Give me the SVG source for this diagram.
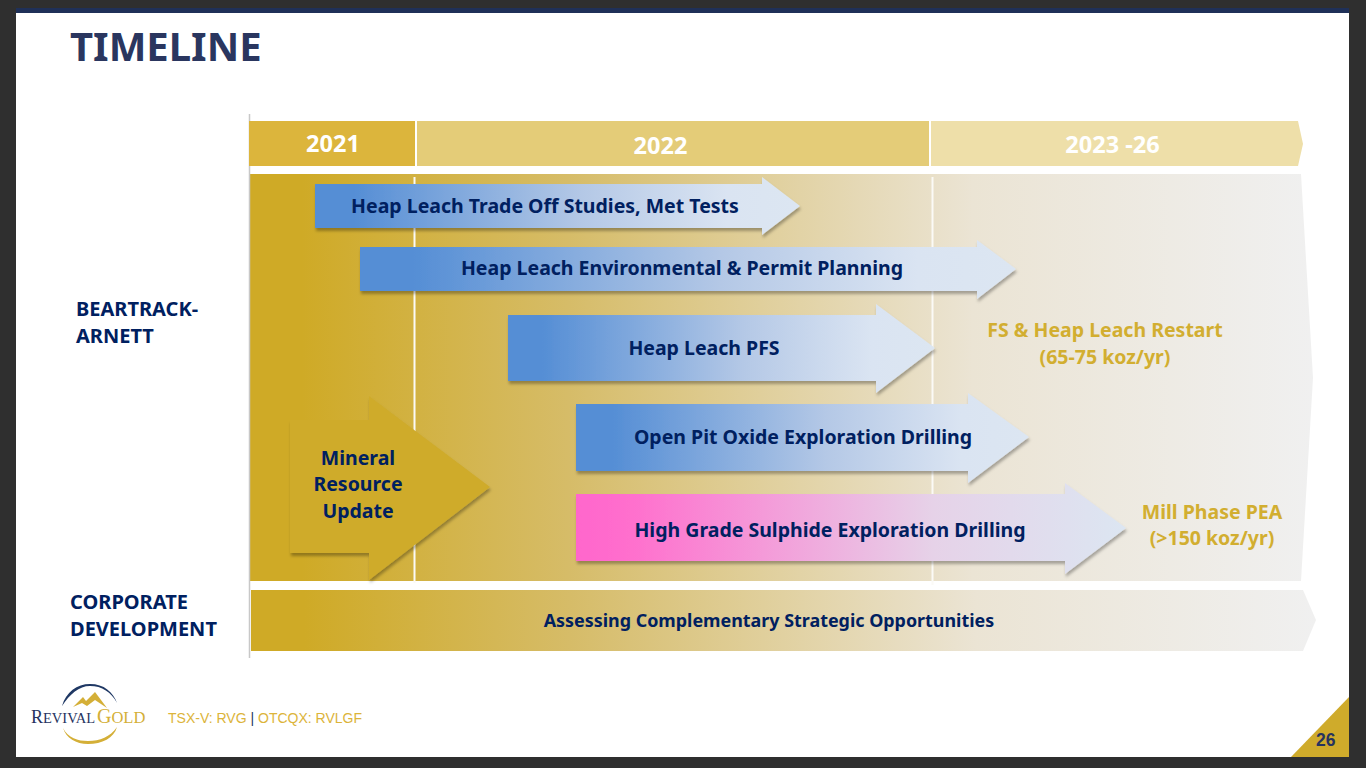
<svg xmlns="http://www.w3.org/2000/svg" width="1366" height="768" viewBox="0 0 1366 768">
<style>
text{font-family:"Noto Sans","Open Sans","Liberation Sans",sans-serif;font-weight:700}
.n{fill:#002060;font-size:20px}
.y{fill:#fff;font-size:23.500px;text-anchor:middle}
.g{fill:#d2ae30;font-size:19.500px;text-anchor:middle}
.s{fill:#002060;font-size:19.500px;text-anchor:middle}
.t{fill:#002060;font-size:17.900px;text-anchor:middle}
.f{font-family:"Liberation Serif",serif;font-weight:400}
</style>
<defs>
<linearGradient id="bg" x1="0" x2="1" y1="0" y2="0"><stop offset="0" stop-color="#cfaa26"/><stop offset=".05" stop-color="#cfaa26"/><stop offset=".3" stop-color="#d6bc68"/><stop offset=".68" stop-color="#ebe4d4"/><stop offset="1" stop-color="#f0f0f0"/></linearGradient>
<linearGradient id="blue" x1="0" x2="1" y1="0" y2="0"><stop offset="0" stop-color="#558ed5"/><stop offset=".08" stop-color="#558ed5"/><stop offset=".55" stop-color="#b4c8e6"/><stop offset=".85" stop-color="#dae4f2"/><stop offset="1" stop-color="#dce6f2"/></linearGradient>
<linearGradient id="pink" x1="0" x2="1" y1="0" y2="0"><stop offset="0" stop-color="#ff66cc"/><stop offset=".1" stop-color="#ff6fcd"/><stop offset=".65" stop-color="#e6d2e8"/><stop offset="1" stop-color="#dce6f2"/></linearGradient>
<filter id="sh" x="-5%" y="-10%" width="110%" height="125%"><feDropShadow dx="1" dy="3" stdDeviation="1.500" flood-color="#000" flood-opacity=".3"/></filter>
</defs>
<rect width="1366" height="768" fill="#2f2f2f"/>
<rect x="16" y="13" width="1333" height="744" fill="#fff"/>
<rect x="16" y="8" width="1333" height="5" fill="#1f3058"/>
<text id="title" x="70" y="61" font-size="40" fill="#2a365f">TIMELINE</text>
<g id="backgrounds">
<polygon points="249,174 1301,174 1313,378 1301,581 249,581" fill="url(#bg)"/>
<polygon points="251,590 1303,590 1316,620 1303,651 251,651" fill="url(#bg)"/>
</g>
<g id="connectors" fill="none">
<path d="M249.500 114V658" stroke="#c8c8c8" stroke-width="1.500"/>
<path d="M414.500 177V583M932.500 177V585" stroke="#fbfaf6" stroke-width="2"/>
</g>
<g id="year-2021"><rect x="249" y="121" width="166" height="45" fill="#dcb53c"/><text class="y" x="333" y="152">2021</text></g>
<g id="year-2022"><rect x="417" y="121" width="512" height="45" fill="#e4cc78"/><text class="y" x="660.500" y="154">2022</text></g>
<g id="year-2023"><polygon points="931,121 1298,121 1303,144 1298,166 931,166" fill="#eedfa9"/><text class="y" x="1112.500" y="153">2023 -26</text></g>
<g id="label-beartrack"><text class="n" x="76" y="316">BEARTRACK-</text><text class="n" x="76" y="343">ARNETT</text></g>
<g id="label-corporate"><text class="n" x="70" y="609">CORPORATE</text><text class="n" x="70" y="636">DEVELOPMENT</text></g>
<g id="arrow-tradeoff"><polygon filter="url(#sh)" points="315,184 762,184 762,177 800,206 762,235 762,228 315,228" fill="url(#blue)"/><text class="s" x="545" y="213">Heap Leach Trade Off Studies, Met Tests</text></g>
<g id="arrow-permit"><polygon filter="url(#sh)" points="360,247 977,247 977,240 1016,269 977,299 977,291 360,291" fill="url(#blue)"/><text class="s" x="682" y="275">Heap Leach Environmental &amp; Permit Planning</text></g>
<g id="arrow-pfs"><polygon filter="url(#sh)" points="508,315 876,315 876,304 935,348 876,393 876,381 508,381" fill="url(#blue)"/><text class="s" x="704" y="355">Heap Leach PFS</text></g>
<g id="arrow-oxide"><polygon filter="url(#sh)" points="576,404 968,404 968,393 1029,437 968,483 968,471 576,471" fill="url(#blue)"/><text class="s" x="803" y="444">Open Pit Oxide Exploration Drilling</text></g>
<g id="arrow-sulphide"><polygon filter="url(#sh)" points="576,494 1065,494 1065,483 1126,528 1065,574 1065,561 576,561" fill="url(#pink)"/><text class="s" x="830" y="537">High Grade Sulphide Exploration Drilling</text></g>
<g id="arrow-mineral"><polygon filter="url(#sh)" points="290,420 369,420 369,396 490,487 369,580 369,553 290,553" fill="#cfab2b"/><text class="s" x="358" y="465">Mineral</text><text class="s" x="358" y="491">Resource</text><text class="s" x="358" y="518">Update</text></g>
<g id="label-restart"><text class="g" x="1105" y="337">FS &amp; Heap Leach Restart</text><text class="g" x="1105" y="364">(65-75 koz/yr)</text></g>
<g id="label-mill"><text class="g" x="1212" y="519">Mill Phase PEA</text><text class="g" x="1212" y="545">(&gt;150 koz/yr)</text></g>
<g id="label-strategic"><text class="t" x="769" y="627">Assessing Complementary Strategic Opportunities</text></g>
<g id="logo">
<path d="M62 706C66 692 77 684 90 684C104 684 113 692 117 703C111 692 102 686 90 686C79 686 70 694 62 706Z" fill="#1f3864"/>
<path d="M63 728C68 738 78 741 88 741C100 741 110 737 117 727C114 738 102 744 88 744C76 744 66 738 63 728Z" fill="#d4af37"/>
<path d="M73 707L83 697L86 701L95 692L107 708L95 700L87 706L82 703Z" fill="#d4af37"/>
<text class="f" x="31" y="723" fill="#26335f"><tspan font-size="18">R</tspan><tspan font-size="14.500">EVIVAL</tspan></text>
<text class="f" x="97" y="723" fill="#d4af37"><tspan font-size="20">G</tspan><tspan font-size="16.500">OLD</tspan></text>
</g>
<g id="ticker"><text x="168" y="722.500" font-size="14" fill="#dcb43a" style="font-family:'Liberation Sans',sans-serif;font-weight:400">TSX-V: RVG <tspan fill="#1f3864">|</tspan> OTCQX: RVLGF</text></g>
<g id="page"><polygon points="1349,697 1349,757 1291,757" fill="#cfab2b"/><text x="1316" y="746" font-size="17.500" fill="#26335f" style="font-family:'Liberation Sans',sans-serif">26</text></g>
</svg>
